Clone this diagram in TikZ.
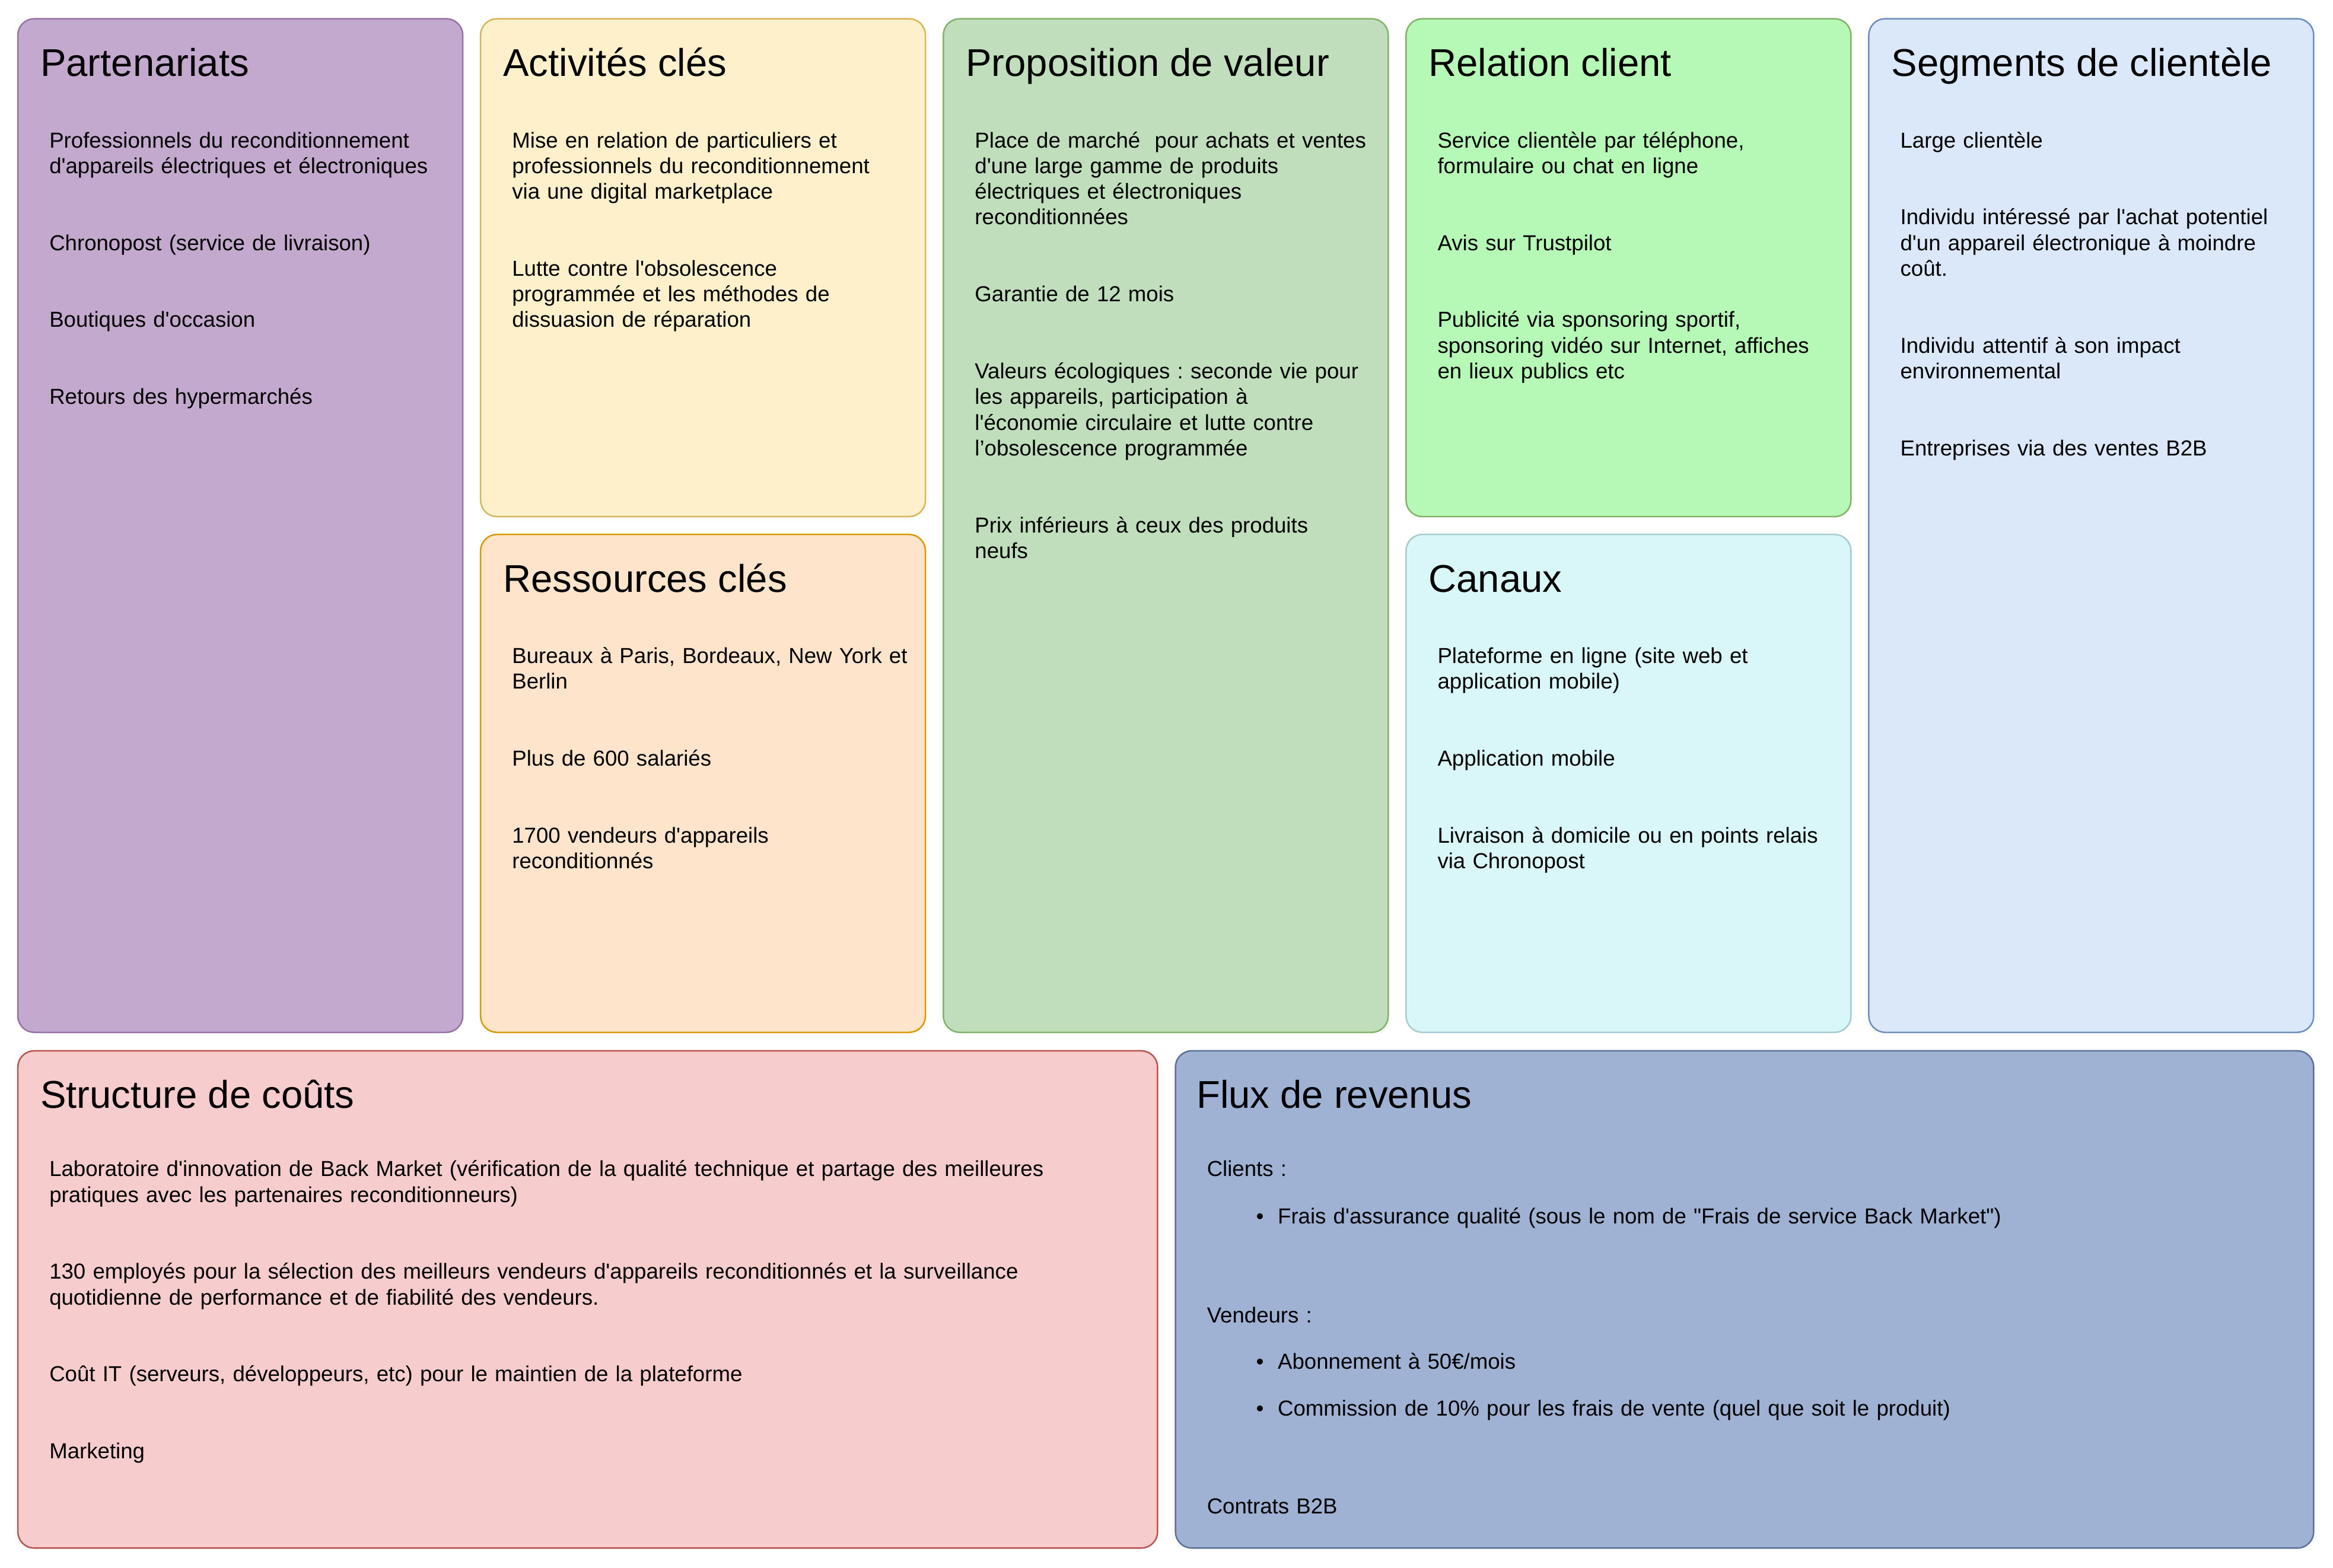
\documentclass[tikz,border=0pt]{standalone}
\usepackage{fontspec}
\setmainfont{Liberation Sans}[Ligatures=TeXOff]
\frenchspacing
\usetikzlibrary{positioning}
\definecolor{partFill}{HTML}{C3A9CD}
\definecolor{partDraw}{HTML}{9673A6}
\definecolor{actFill}{HTML}{FFF0CC}
\definecolor{actDraw}{HTML}{D6B656}
\definecolor{resFill}{HTML}{FFE4CC}
\definecolor{resDraw}{HTML}{D79B00}
\definecolor{propFill}{HTML}{C0DEBC}
\definecolor{propDraw}{HTML}{82B366}
\definecolor{relFill}{HTML}{B6F8B6}
\definecolor{relDraw}{HTML}{82B366}
\definecolor{canFill}{HTML}{D9F7F9}
\definecolor{canDraw}{HTML}{A6CBD0}
\definecolor{segFill}{HTML}{DAE8FA}
\definecolor{segDraw}{HTML}{6C8EBF}
\definecolor{costFill}{HTML}{F6CDCC}
\definecolor{costDraw}{HTML}{B85450}
\definecolor{fluxFill}{HTML}{A0B2D4}
\definecolor{fluxDraw}{HTML}{5B7198}
\tikzset{
    block/.style={rounded corners=11pt, line width=1pt, outer sep=0pt, inner sep=0pt, minimum width=299pt},
    heading/.style={inner sep=0pt, font=\fontsize{26}{30}\selectfont},
    items/.style={inner sep=0pt, align=left, text width=300pt, font=\fontsize{14.6}{17.25}\selectfont\frenchspacing}
}

\begin{document}
\begin{tikzpicture}[x=1pt, y=-1pt]
        \fill[white] (0,0) rectangle (1568,1054);
        \useasboundingbox (0,0) rectangle (1568,1054);
        % top row
        \node [block, fill=partFill, draw=partDraw, minimum height=681.4pt, anchor=north west] (part) at (12,12.6) {};
        \node [block, fill=actFill, draw=actDraw, minimum height=334.7pt, right=12pt of part.north east, anchor=north west] (act) {};
        \node [block, fill=resFill, draw=resDraw, minimum height=334.7pt, below=12pt of act.south west, anchor=north west] (res) {};
        \node [block, fill=propFill, draw=propDraw, minimum height=681.4pt, right=12pt of act.north east, anchor=north west] (prop) {};
        \node [block, fill=relFill, draw=relDraw, minimum height=334.7pt, right=12pt of prop.north east, anchor=north west] (rel) {};
        \node [block, fill=canFill, draw=canDraw, minimum height=334.7pt, below=12pt of rel.south west, anchor=north west] (can) {};
        \node [block, fill=segFill, draw=segDraw, minimum height=681.4pt, right=12pt of rel.north east, anchor=north west] (seg) {};
        % bottom row
        \node [block, fill=costFill, draw=costDraw, minimum width=766pt, minimum height=334.3pt, below=12.4pt of part.south west, anchor=north west] (cost) {};
        \node [block, fill=fluxFill, draw=fluxDraw, minimum width=765pt, minimum height=334.3pt, right=12pt of cost.north east, anchor=north west] (flux) {};

        \node [heading, below right=38.7pt and 15pt of part.north west, anchor=base west] (partTitle) {Partenariats};
        \node [items, below right=86.7pt and 21pt of part.north west, anchor=base west] (partText) {Professionnels du reconditionnement\\d'appareils électriques et électroniques\\[2\baselineskip]
            Chronopost (service de livraison)\\[2\baselineskip]
            Boutiques d'occasion\\[2\baselineskip]
            Retours des hypermarchés};

        \node [heading, below right=38.7pt and 15pt of act.north west, anchor=base west] (actTitle) {Activités clés};
        \node [items, below right=86.7pt and 21pt of act.north west, anchor=base west] (actText) {Mise en relation de particuliers et\\professionnels du reconditionnement\\via une digital marketplace\\[2\baselineskip]
            Lutte contre l'obsolescence\\programmée et les méthodes de\\dissuasion de réparation};

        \node [heading, below right=38.7pt and 15pt of res.north west, anchor=base west] (resTitle) {Ressources clés};
        \node [items, below right=86.7pt and 21pt of res.north west, anchor=base west] (resText) {Bureaux à Paris, Bordeaux, New York et\\Berlin\\[2\baselineskip]
            Plus de 600 salariés\\[2\baselineskip]
            1700 vendeurs d'appareils\\reconditionnés};

        \node [heading, below right=38.7pt and 15pt of prop.north west, anchor=base west] (propTitle) {Proposition de valeur};
        \node [items, below right=86.7pt and 21pt of prop.north west, anchor=base west] (propText) {Place de marché\ \ pour achats et ventes\\d'une large gamme de produits\\électriques et électroniques\\reconditionnées\\[2\baselineskip]
            Garantie de 12 mois\\[2\baselineskip]
            Valeurs écologiques : seconde vie pour\\les appareils, participation à\\l'économie circulaire et lutte contre\\l’obsolescence programmée\\[2\baselineskip]
            Prix inférieurs à ceux des produits\\neufs};

        \node [heading, below right=38.7pt and 15pt of rel.north west, anchor=base west] (relTitle) {Relation client};
        \node [items, below right=86.7pt and 21pt of rel.north west, anchor=base west] (relText) {Service clientèle par téléphone,\\formulaire ou chat en ligne\\[2\baselineskip]
            Avis sur Trustpilot\\[2\baselineskip]
            Publicité via sponsoring sportif,\\sponsoring vidéo sur Internet, affiches\\en lieux publics etc};

        \node [heading, below right=38.7pt and 15pt of can.north west, anchor=base west] (canTitle) {Canaux};
        \node [items, below right=86.7pt and 21pt of can.north west, anchor=base west] (canText) {Plateforme en ligne (site web et\\application mobile)\\[2\baselineskip]
            Application mobile\\[2\baselineskip]
            Livraison à domicile ou en points relais\\via Chronopost};

        \node [heading, below right=38.7pt and 15pt of seg.north west, anchor=base west] (segTitle) {Segments de clientèle};
        \node [items, below right=86.7pt and 21pt of seg.north west, anchor=base west] (segText) {Large clientèle\\[2\baselineskip]
            Individu intéressé par l'achat potentiel\\d'un appareil électronique à moindre\\coût.\\[2\baselineskip]
            Individu attentif à son impact\\environnemental\\[2\baselineskip]
            Entreprises via des ventes B2B};

        \node [heading, below right=38.7pt and 15pt of cost.north west, anchor=base west] (costTitle) {Structure de coûts};
        \node [items, text width=740pt, below right=84.5pt and 21pt of cost.north west, anchor=base west] (costText) {Laboratoire d'innovation de Back Market (vérification de la qualité technique et partage des meilleures\\pratiques avec les partenaires reconditionneurs)\\[2\baselineskip]
            130 employés pour la sélection des meilleurs vendeurs d'appareils reconditionnés et la surveillance\\quotidienne de performance et de fiabilité des vendeurs.\\[2\baselineskip]
            Coût IT (serveurs, développeurs, etc) pour le maintien de la plateforme\\[2\baselineskip]
            Marketing};

        \node [heading, below right=38.7pt and 14pt of flux.north west, anchor=base west] (fluxTitle) {Flux de revenus};
        \node [items, text width=740pt, below right=84.5pt and 21pt of flux.north west, anchor=base west] (fluxText) {Clients :\\[14.4pt]
            \hspace*{33pt}\textbullet\hspace{9.5pt}Frais d'assurance qualité (sous le nom de "Frais de service Back Market")\\[49.4pt]
            Vendeurs :\\[14pt]
            \hspace*{33pt}\textbullet\hspace{9.5pt}Abonnement à 50€/mois\\[14pt]
            \hspace*{33pt}\textbullet\hspace{9.5pt}Commission de 10\% pour les frais de vente (quel que soit le produit)\\[48.8pt]
            Contrats B2B};
    \end{tikzpicture}
\end{document}
